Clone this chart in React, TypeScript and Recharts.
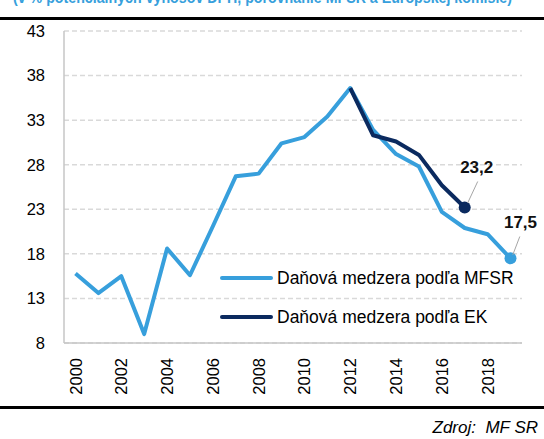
import React from 'react';
import { LineChart, Line, XAxis, YAxis, CartesianGrid } from 'recharts';

// roky a hodnoty danovej medzery (v %)
const years = [
  '2000', '2001', '2002', '2003', '2004', '2005', '2006', '2007', '2008', '2009',
  '2010', '2011', '2012', '2013', '2014', '2015', '2016', '2017', '2018', '2019',
];
const mfsrGap = [
  15.8, 13.6, 15.5, 9.0, 18.6, 15.6, 21.1, 26.7, 27.0, 30.4,
  31.1, 33.4, 36.6, 31.9, 29.2, 27.8, 22.7, 20.9, 20.2, 17.5,
];
const ekGap = [
  null, null, null, null, null, null, null, null, null, null,
  null, null, 36.6, 31.3, 30.6, 29.1, 25.7, 23.2, null, null,
];
const yTicks = [8, 13, 18, 23, 28, 33, 38, 43];
const mfsrName = 'Daňová medzera podľa MFSR';
const ekName = 'Daňová medzera podľa EK';
const titleText = '(v % potenciálnych výnosov DPH, porovnanie MFSR a Európskej komisie)';
const sourceText = 'Zdroj:  MF SR';

const data = years.map((year, i) => ({ year, mfsr: mfsrGap[i], ek: ekGap[i] }));

const LIGHT = '#379FDC';
const DARK = '#0B2A5F';
const AXIS = '#c6c6c6';
const FONT = "'Liberation Sans', Arial, sans-serif";

function YearTick({ x, y, payload }: any) {
  return (
    <g transform={`translate(${x},${y + 15}) rotate(-90)`}>
      <text x={0} y={0} textAnchor="end" dominantBaseline="central" fontFamily={FONT} fontSize={16.5} fill="#000">
        {payload.value}
      </text>
    </g>
  );
}

const endDot = (lastIndex: number, color: string, r: number) => (props: any) => {
  const { cx, cy, index } = props;
  if (index !== lastIndex || cy == null) return <g key={`dot-${index}`} />;
  return <circle key={`dot-${index}`} cx={cx} cy={cy} r={r} fill={color} />;
};

// popisok poslednej hodnoty s vodiacou ciarou
const endLabel = (lastIndex: number, lead: number[], tdx: number, tdy: number) => (props: any) => {
  const { x, y, index, value } = props;
  if (index !== lastIndex || value == null) return <g key={`lbl-${index}`} />;
  return (
    <g key={`lbl-${index}`}>
      <line x1={x + lead[0]} y1={y + lead[1]} x2={x + lead[2]} y2={y + lead[3]} stroke="#a6a6a6" strokeWidth={1} />
      <text x={x + tdx} y={y + tdy} textAnchor="middle" dominantBaseline="central"
        fontFamily={FONT} fontWeight="bold" fontSize={17} fill="#111">
        {String(value).replace('.', ',')}
      </text>
    </g>
  );
};

export default function App() {
  return (
    <div style={{ position: 'absolute', left: 0, top: 0, width: 544, height: 439, background: '#fff', overflow: 'hidden' }}>
      <svg width={544} height={20} style={{ position: 'absolute', left: 0, top: 0 }}>
        <text x={13} y={3} textLength={499} lengthAdjust="spacingAndGlyphs" fill={LIGHT}
          fontFamily={FONT} fontWeight="bold" fontSize={17}>{titleText}</text>
      </svg>
      <div style={{ position: 'absolute', left: 0, top: 17, width: 544, height: 3, background: '#000' }} />

      <LineChart width={544} height={439} data={data} margin={{ top: 31, right: 22, bottom: 36, left: 0 }}>
        <CartesianGrid vertical={false} stroke="#d9d9d9" strokeDasharray="5 3" strokeWidth={1.5} />
        <XAxis
          dataKey="year"
          interval={1}
          height={60}
          padding={{ left: 11.5, right: 11.5 }}
          tickSize={0}
          tickMargin={0}
          tickLine={false}
          axisLine={{ stroke: AXIS, strokeWidth: 1.5 }}
          tick={<YearTick />}
        />
        <YAxis
          width={64}
          domain={[8, 43]}
          ticks={yTicks}
          tickSize={0}
          tickMargin={19}
          tickLine={false}
          axisLine={{ stroke: AXIS, strokeWidth: 1.5 }}
          tick={{ fill: '#000', fontSize: 16.5, fontFamily: FONT }}
        />
        <Line
          dataKey="mfsr"
          name={mfsrName}
          stroke={LIGHT}
          strokeWidth={4}
          strokeLinejoin="round"
          dot={endDot(19, LIGHT, 6)}
          activeDot={false}
          label={endLabel(19, [2.3, -3.5, 9.3, -21.8], 10, -36)}
          isAnimationActive={false}
        />
        <Line
          dataKey="ek"
          name={ekName}
          stroke={DARK}
          strokeWidth={4}
          strokeLinejoin="round"
          connectNulls={false}
          dot={endDot(17, DARK, 6)}
          activeDot={false}
          label={endLabel(17, [3, -4.6, 13, -26], 12, -40)}
          isAnimationActive={false}
        />
      </LineChart>

      {[{ name: mfsrName, color: LIGHT, y: 278 }, { name: ekName, color: DARK, y: 317 }].map((item) => (
        <div key={item.name} style={{ position: 'absolute', left: 220, top: item.y - 12, height: 24, display: 'flex', alignItems: 'center' }}>
          <div style={{ width: 53, height: 4, borderRadius: 2, background: item.color }} />
          <span style={{ marginLeft: 4, fontFamily: FONT, fontSize: 17.5, color: '#000', whiteSpace: 'nowrap' }}>{item.name}</span>
        </div>
      ))}

      <div style={{ position: 'absolute', left: 0, top: 406, width: 544, height: 3, background: '#000' }} />
      <div style={{
        position: 'absolute', right: 6, top: 418, fontFamily: FONT, fontStyle: 'italic', fontSize: 17,
        color: '#000', whiteSpace: 'pre',
      }}>{sourceText}</div>
    </div>
  );
}
